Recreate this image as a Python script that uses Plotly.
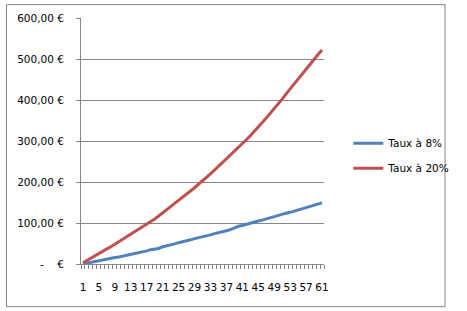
import plotly.graph_objects as go

periods = list(range(1, 62))
taux_8 = [0, 2, 4, 6, 9, 11, 13, 15, 16, 17, 19, 21, 23, 25, 27, 30, 32, 35, 37, 38,
          42, 44, 47, 49, 52, 54, 57, 59, 62, 64, 66, 69, 71, 74, 76, 79, 81, 84, 88, 92,
          94, 97, 100, 102, 105, 107, 110, 113, 116, 119, 121, 124, 126, 129, 131, 134, 137, 140, 143, 146,
          149]
taux_20 = [3, 9, 14, 20, 26, 31, 37, 42, 48, 54, 60, 66, 72, 78, 84, 91, 98, 104, 110, 117,
           124, 132, 140, 148, 155, 162, 170, 178, 186, 194, 202, 211, 220, 229, 238, 247, 256, 265, 274, 283,
           293, 303, 313, 323, 334, 345, 356, 367, 378, 390, 402, 415, 427, 440, 452, 465, 477, 489, 500, 511,
           522]
series_names = ["Taux à 8%", "Taux à 20%"]
colors = ["#4F81BD", "#C0504D"]
y_ticks = [0, 100, 200, 300, 400, 500, 600]
y_labels = ["-\u00a0\u00a0\u00a0\u00a0€", "100,00 €", "200,00 €", "300,00 €", "400,00 €", "500,00 €", "600,00 €"]
x_label_step = 4

FONT = "DejaVu Sans"
GRID = "#868686"

fig = go.Figure()
for name, vals, col in zip(series_names, [taux_8, taux_20], colors):
    fig.add_trace(go.Scatter(x=periods, y=vals, mode="lines", name=name, legendgroup=name,
                             line=dict(color=col, width=3)))

xt = periods[::x_label_step]
fig.update_layout(
    width=467, height=311,
    margin=dict(l=81, r=130, t=16, b=47),
    paper_bgcolor="white", plot_bgcolor="white",
    font=dict(family=FONT, size=10.5, color="black"),
    showlegend=True,
    legend=dict(x=1.10, y=0.44, xanchor="left", yanchor="middle",
                font=dict(family=FONT, size=10.5, color="black"),
                traceorder="grouped", itemwidth=30, tracegroupgap=6, bgcolor="rgba(0,0,0,0)"),
    xaxis=dict(range=[0.5, len(periods) + 0.5], tickmode="array", tickvals=xt,
               ticktext=[str(v) for v in xt], ticks="", showgrid=False,
               showline=True, linecolor=GRID, linewidth=1, zeroline=False,
               ticklabelstandoff=13,
               minor=dict(tickmode="array", tickvals=[p - 0.5 for p in periods] + [periods[-1] + 0.5],
                          ticks="outside", ticklen=4, tickcolor=GRID, showgrid=False),
               fixedrange=True),
    yaxis=dict(range=[0, 600], tickmode="array", tickvals=y_ticks, ticktext=y_labels,
               ticks="outside", ticklen=4, tickcolor=GRID, showgrid=True, gridcolor=GRID,
               gridwidth=1, showline=True, linecolor=GRID, linewidth=1, zeroline=False,
               ticklabelstandoff=10, fixedrange=True),
    shapes=[dict(type="rect", xref="paper", yref="paper",
                 x0=(2.5 - 81) / 256, x1=(464.5 - 81) / 256,
                 y0=-(307 - 264) / 248, y1=1 + (16 - 2.5) / 248,
                 line=dict(color=GRID, width=1), fillcolor="rgba(0,0,0,0)", layer="below")],
)
fig.write_html("out.html")
